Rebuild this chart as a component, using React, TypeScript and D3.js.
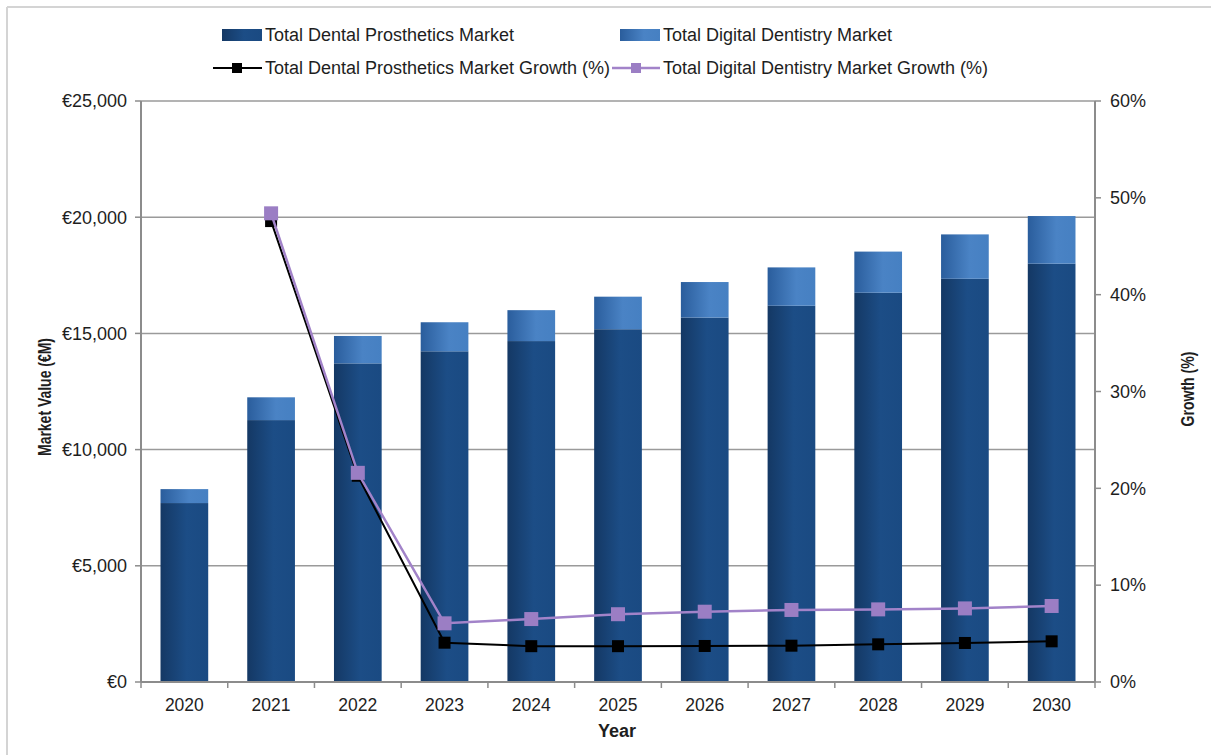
import React from "react";
import * as d3 from "d3";

const years = ["2020","2021","2022","2023","2024","2025","2026","2027","2028","2029","2030"];
const prostheticsValues = [7700, 11270, 13710, 14230, 14670, 15180, 15680, 16190, 16750, 17350, 18000];
const digitalValues = [600, 980, 1180, 1250, 1330, 1400, 1530, 1650, 1770, 1910, 2050];
const prostheticsGrowth = [null, 47.6, 21.3, 4.06, 3.7, 3.7, 3.72, 3.75, 3.89, 4.03, 4.2];
const digitalGrowth = [null, 48.4, 21.6, 6.06, 6.5, 7.0, 7.26, 7.44, 7.5, 7.6, 7.85];
const leftTicks = [0, 5000, 10000, 15000, 20000, 25000];
const rightTicks = [0, 10, 20, 30, 40, 50, 60];
const legendLabels = [
  "Total Dental Prosthetics Market",
  "Total Digital Dentistry Market",
  "Total Dental Prosthetics Market Growth (%)",
  "Total Digital Dentistry Market Growth (%)",
];

const W = 1211, H = 755;
const L = 141, R = 1095, T = 101, B = 682;
const FONT = "'Liberation Sans', Arial, Helvetica, sans-serif";
const TXT = "#1e1e1e";

export default function App() {
  const x = d3.scaleBand<string>().domain(years).range([L, R]).paddingInner(0.45).paddingOuter(0.225);
  const y = d3.scaleLinear().domain([0, 25000]).range([B, T]);
  const y2 = d3.scaleLinear().domain([0, 60]).range([B, T]);
  const fmt = (v: number) => "€" + d3.format(",")(v);
  const cx = (yr: string) => (x(yr) as number) + x.bandwidth() / 2;

  const pts = (arr: (number | null)[]) =>
    years.map((yr, i) => ({ yr, v: arr[i] })).filter((d) => d.v !== null) as { yr: string; v: number }[];
  const line = d3.line<{ yr: string; v: number }>().x((d) => cx(d.yr)).y((d) => y2(d.v));
  const pG = pts(prostheticsGrowth);
  const dG = pts(digitalGrowth);

  const step = x.step();
  const boundaries = d3.range(years.length + 1).map((i) => L + i * step);

  return (
    <svg width={W} height={H} style={{ position: "absolute", left: 0, top: 0, background: "#fff" }}>
      <defs>
        <linearGradient id="gDark" x1="0" x2="1" y1="0" y2="0">
          <stop offset="0" stopColor="#143864" />
          <stop offset="0.55" stopColor="#1c4d86" />
          <stop offset="1" stopColor="#1a4a82" />
        </linearGradient>
        <linearGradient id="gLight" x1="0" x2="1" y1="0" y2="0">
          <stop offset="0" stopColor="#2a5d9c" />
          <stop offset="0.6" stopColor="#4a83c5" />
          <stop offset="1" stopColor="#4680c2" />
        </linearGradient>
      </defs>
      <rect x={0} y={0} width={W} height={H} fill="#fff" />
      <line x1={7} y1={7} x2={W} y2={7} stroke="#d4d4d4" strokeWidth={2} />
      <line x1={7} y1={7} x2={7} y2={H} stroke="#d4d4d4" strokeWidth={2} />

      {/* gridlines */}
      {leftTicks.filter((t) => t > 0).map((t) => (
        <line key={t} x1={L} x2={R} y1={y(t)} y2={y(t)} stroke="#9a9a9a" strokeWidth={1.5} />
      ))}

      {/* bars */}
      {years.map((yr, i) => (
        <g key={yr}>
          <rect x={x(yr)} width={x.bandwidth()} y={y(prostheticsValues[i])} height={B - y(prostheticsValues[i])} fill="url(#gDark)" />
          <rect x={x(yr)} width={x.bandwidth()} y={y(prostheticsValues[i] + digitalValues[i])} height={y(prostheticsValues[i]) - y(prostheticsValues[i] + digitalValues[i])} fill="url(#gLight)" />
        </g>
      ))}

      {/* axes */}
      <line x1={L} x2={L} y1={T} y2={B} stroke="#8c8c8c" strokeWidth={2} />
      <line x1={R} x2={R} y1={T} y2={B} stroke="#8c8c8c" strokeWidth={2} />
      <line x1={L} x2={R} y1={B} y2={B} stroke="#8c8c8c" strokeWidth={2} />
      {leftTicks.map((t) => (
        <g key={t}>
          <line x1={L - 6} x2={L} y1={y(t)} y2={y(t)} stroke="#8c8c8c" strokeWidth={1.5} />
          <text x={127} y={y(t)} dy="0.35em" textAnchor="end" fontSize={18} fontFamily={FONT} fill={TXT}>{fmt(t)}</text>
        </g>
      ))}
      {rightTicks.map((t) => (
        <g key={t}>
          <line x1={R} x2={R + 6} y1={y2(t)} y2={y2(t)} stroke="#8c8c8c" strokeWidth={1.5} />
          <text x={1110} y={y2(t)} dy="0.35em" textAnchor="start" fontSize={18} fontFamily={FONT} fill={TXT}>{t + "%"}</text>
        </g>
      ))}
      {boundaries.map((bx, i) => (
        <line key={i} x1={bx} x2={bx} y1={B} y2={B + 6} stroke="#8c8c8c" strokeWidth={1.5} />
      ))}
      {years.map((yr) => (
        <text key={yr} x={cx(yr)} y={711} textAnchor="middle" fontSize={17.5} fontFamily={FONT} fill={TXT}>{yr}</text>
      ))}

      {/* axis titles */}
      <text x={617} y={737} textAnchor="middle" fontSize={18} fontWeight="bold" fontFamily={FONT} fill={TXT}>Year</text>
      <text transform={`translate(51,397) rotate(-90)`} textAnchor="middle" fontSize={19} fontWeight="bold" fontFamily={FONT} fill={TXT} textLength={118} lengthAdjust="spacingAndGlyphs">Market Value (€M)</text>
      <text transform={`translate(1194,389) rotate(-90)`} textAnchor="middle" fontSize={18} fontWeight="bold" fontFamily={FONT} fill={TXT} textLength={75} lengthAdjust="spacingAndGlyphs">Growth (%)</text>

      {/* growth lines */}
      <path d={line(pG) || ""} fill="none" stroke="#000" strokeWidth={2} />
      {pG.map((d) => (
        <rect key={d.yr} x={cx(d.yr) - 6} y={y2(d.v) - 6} width={12} height={12} fill="#000" />
      ))}
      <path d={line(dG) || ""} fill="none" stroke="#a283c9" strokeWidth={2.5} />
      {dG.map((d) => (
        <rect key={d.yr} x={cx(d.yr) - 7} y={y2(d.v) - 7} width={14} height={14} fill="#9b7ec4" />
      ))}

      {/* legend */}
      <rect x={222} y={29} width={40} height={12} fill="url(#gDark)" />
      <text x={265} y={35} dy="0.35em" fontSize={18} fontFamily={FONT} fill={TXT}>{legendLabels[0]}</text>
      <rect x={620} y={29} width={40} height={12} fill="url(#gLight)" />
      <text x={663} y={35} dy="0.35em" fontSize={18} fontFamily={FONT} fill={TXT}>{legendLabels[1]}</text>
      <line x1={213} x2={262} y1={68} y2={68} stroke="#000" strokeWidth={2} />
      <rect x={232} y={63} width={10} height={10} fill="#000" />
      <text x={265} y={68} dy="0.35em" fontSize={18} fontFamily={FONT} fill={TXT}>{legendLabels[2]}</text>
      <line x1={612} x2={660} y1={68} y2={68} stroke="#a283c9" strokeWidth={2.5} />
      <rect x={631} y={63} width={10} height={10} fill="#9b7ec4" />
      <text x={663} y={68} dy="0.35em" fontSize={18} fontFamily={FONT} fill={TXT}>{legendLabels[3]}</text>
    </svg>
  );
}
